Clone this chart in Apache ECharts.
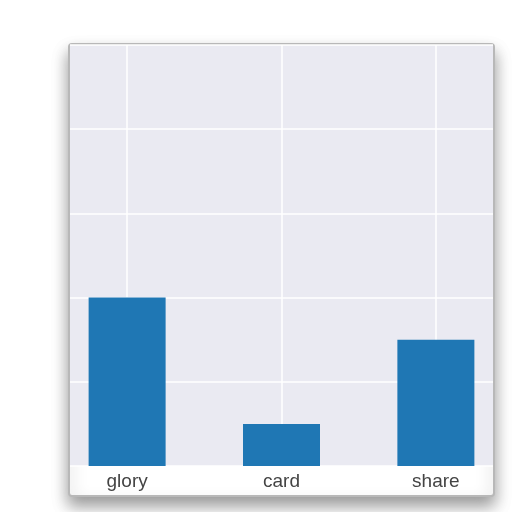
<!DOCTYPE html>
<html>
<head>
    <meta charset="utf-8">
    <title>Bars</title>
    <script src="https://cdn.jsdelivr.net/npm/echarts@6/dist/echarts.min.js"></script>
    <style>
        html, body { margin: 0; padding: 0; background: #fff; }
        #main { width: 512px; height: 512px; }
    </style>
</head>
<body>
<div id="main"></div>
<script type="text/javascript">
    // data
    var categories = ['glory', 'card', 'share'];
    var values = [4, 1, 3];
    var yTicks = [0, 2, 4, 6, 8, 10];

    var points = values.map((v, i) => [i, v]);
    var catIdx = categories.map((c, i) => i);

    var myChart = echarts.init(document.getElementById('main'));

    var option = {
        animation: false,
        backgroundColor: '#fff',
        // the "paper" behind the plot, with a soft shadow underneath
        graphic: [{
            type: 'rect',
            z: -10,
            shape: {x: 69, y: 44, width: 425, height: 452, r: 3},
            style: {
                fill: '#fff',
                stroke: '#b8b8b8',
                lineWidth: 2,
                shadowBlur: 16,
                shadowOffsetY: 9,
                shadowColor: 'rgba(0,0,0,0.4)'
            }
        }],
        grid: [
            {
                left: 70, right: 19, top: 45, bottom: 46,
                show: true,
                backgroundColor: '#EAEAF2',
                borderWidth: 0
            },
            {
                // only there for the vertical grid lines at the category centres
                left: 127, right: 76, top: 45, bottom: 46,
                show: false
            }
        ],
        xAxis: [
            {
                type: 'value',
                gridIndex: 0,
                min: -0.37,
                max: 2.37,
                axisLine: {show: false},
                axisTick: {show: false},
                splitLine: {show: false},
                axisLabel: {
                    customValues: catIdx,
                    formatter: (v) => categories[Math.round(v)],
                    color: '#444',
                    fontFamily: 'Liberation Sans',
                    fontSize: 19,
                    margin: 6
                }
            },
            {
                type: 'value',
                gridIndex: 1,
                min: 0,
                max: catIdx.length - 1,
                interval: 1,
                axisLine: {show: false},
                axisTick: {show: false},
                axisLabel: {show: false},
                splitLine: {lineStyle: {color: '#fff', width: 1.5}}
            }
        ],
        yAxis: [
            {
                type: 'value',
                gridIndex: 0,
                min: yTicks[0],
                max: yTicks[yTicks.length - 1],
                interval: 2,
                axisLine: {show: false},
                axisTick: {show: false},
                axisLabel: {show: false},
                splitLine: {lineStyle: {color: '#fff', width: 1.5}}
            },
            {
                type: 'value',
                gridIndex: 1,
                show: false
            }
        ],
        series: [
            {
                type: 'bar',
                xAxisIndex: 0,
                yAxisIndex: 0,
                z: 2,
                barWidth: 77,
                itemStyle: {color: '#1f77b4'},
                data: points
            }
        ]
    };

    myChart.setOption(option);
</script>
</body>
</html>
